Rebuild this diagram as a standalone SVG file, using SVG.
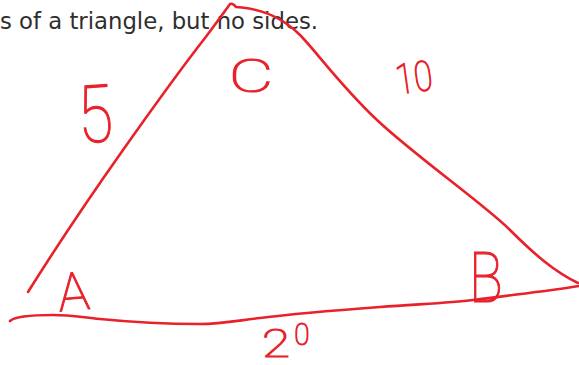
<svg xmlns="http://www.w3.org/2000/svg" width="579" height="365" viewBox="0 0 579 365">
  <style>
    .ink { fill: none; stroke: #e8212b; stroke-width: 2.6; stroke-linecap: round; stroke-linejoin: round; }
    .hand { font-family: Roboto, "Open Sans", "Liberation Sans", sans-serif; font-weight: 100; fill: #e8212b; stroke: #e8212b; stroke-width: 1.1; text-anchor: middle; }
    .body { font-family: "DejaVu Sans", Verdana, sans-serif; font-size: 23.5px; fill: #2e2e2e; }
  </style>
  <rect width="579" height="365" fill="#ffffff"/>
  <text class="body" x="0" y="29" textLength="318" lengthAdjust="spacingAndGlyphs">s of a triangle, but no sides.</text>

  <g id="triangle">
    <path class="ink" d="M28,292 Q70,225 123,150 T205,38 Q220,18 230,4 Q233,3 236,7 L242,7.5 C265,10 285,20 300,35 S340,85 377,120 S485,205 510,230 S555,272 578,283"/>
    <path class="ink" d="M10,321 C14,317 30,315 53,315 C70,315 80,317 100,319 C130,322 160,324 200,324 C220,324 235,321 260,318 C300,313 340,310 380,307 C420,304 450,303 473,300 C510,295 550,291 579,286"/>
  </g>

  <g id="label-5"><text class="hand" font-size="80" transform="translate(97,142) rotate(-4) scale(0.8,1)" x="0" y="0">5</text></g>
  <g id="vertex-C"><text class="hand" font-size="46" transform="translate(251,92) scale(1.5,1)" x="0" y="0">C</text></g>
  <g id="label-10"><text class="hand" font-size="42" transform="translate(416,92) rotate(-8) scale(0.8,1)" x="0" y="0">10</text></g>
  <g id="vertex-A"><text class="hand" font-size="53" transform="translate(75,310) rotate(-5)" x="0" y="0">A</text></g>
  <g id="vertex-B"><text class="hand" font-size="70" transform="translate(486,302) scale(0.8,1)" x="0" y="0">B</text></g>
  <g id="label-20">
    <text class="hand" font-size="38" transform="translate(276,357) scale(1.35,1)" x="0" y="0">2</text>
    <text class="hand" font-size="31" transform="translate(302,345) scale(0.9,1)" x="0" y="0">0</text>
  </g>
</svg>
